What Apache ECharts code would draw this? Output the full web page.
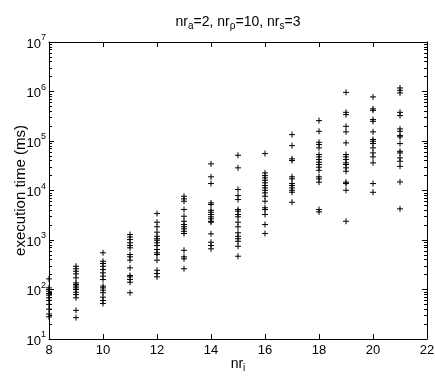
<!DOCTYPE html>
<html>
<head>
<meta charset="utf-8">
<script src="https://cdn.jsdelivr.net/npm/echarts@6/dist/echarts.min.js"></script>
<style>
  html, body { margin: 0; padding: 0; background: #fff; }
  #chart { width: 435px; height: 385px; }
</style>
</head>
<body>
<div id="chart"></div>
<script>
// nr_i values on the x axis
const nrI = [8, 9, 10, 11, 12, 13, 14, 15, 16, 17, 18, 19, 20, 21];

// execution times (ms) measured for each nr_i
const t8 = [164, 108, 100, 92, 83, 77, 68, 60, 50, 40, 32, 28];
const t9 = [295, 262, 234, 207, 172, 136, 126, 117, 108, 100, 88, 79, 68, 38, 27];
const t10 = [551, 372, 335, 295, 253, 217, 186, 159, 117, 108, 97, 86, 70, 60, 52];
const t11 = [1290, 1150, 1020, 877, 773, 695, 509, 457, 391, 274, 192, 180, 159, 140, 86];
const t12 = [3420, 2290, 1850, 1440, 1190, 1060, 989, 877, 773, 642, 551, 509, 391, 245, 210, 180];
const t13 = [7650, 6780, 6070, 4120, 3020, 2390, 2050, 1850, 1680, 1500, 1350, 621, 457, 417, 262];
const t14 = [34500, 18900, 13800, 5620, 5200, 3990, 3640, 3270, 2940, 2680, 2390, 2290, 1330, 902, 773, 663];
const t15 = [51500, 28700, 10500, 7900, 6560, 4120, 3810, 3270, 2940, 2290, 1850, 1400, 1190, 1060, 944, 748, 470];
const t16 = [55700, 22700, 20000, 18000, 16100, 14300, 12600, 11300, 10100, 8960, 7650, 6070, 4470, 4120, 3270, 2050, 1350];
const t17 = [134600, 80700, 43600, 40300, 18900, 17200, 13800, 12600, 11300, 10100, 9220, 5790];
const t18 = [258000, 157000, 94200, 84700, 72600, 53200, 47800, 42200, 37200, 33400, 29500, 25600, 18900, 17200, 14700, 4120, 3700];
const t19 = [961000, 380000, 341000, 198000, 153000, 91600, 53200, 47800, 42200, 36200, 33400, 28700, 24500, 14700, 13800, 10100, 2390];
const t20 = [778000, 445000, 417000, 271000, 250000, 153000, 107000, 98700, 88700, 72600, 57500, 47800, 36200, 13800, 9200];
const t21 = [1180000, 1060000, 935000, 380000, 326000, 176000, 157000, 128500, 121000, 88700, 62000, 57500, 45600, 38900, 30800, 14900, 4260];
const timesByNrI = [t8, t9, t10, t11, t12, t13, t14, t15, t16, t17, t18, t19, t20, t21];

// axis ticks
const decades = [10, 100, 1000, 10000, 100000, 1000000, 10000000];
const minorSteps = [2, 3, 4, 5, 6, 7, 8, 9];

const FONT = 'Liberation Sans, Arial, Helvetica, sans-serif';
const minorTicks = [];
decades.slice(0, -1).forEach(d => minorSteps.forEach(m => minorTicks.push(d * m)));

const points = [];
nrI.forEach((x, i) => timesByNrI[i].forEach(v => points.push([x, v])));

const chart = echarts.init(document.getElementById('chart'));

const axisBase = {
  axisLine: { show: true, lineStyle: { color: '#000', width: 1 } },
  splitLine: { show: false },
  nameMoveOverlap: false,
};

const logAxis = (position, major, labels) => ({
  ...axisBase,
  type: 'log',
  logBase: 10,
  min: 10,
  max: 10000000,
  position: position,
  axisLine: { show: major, lineStyle: { color: '#000', width: 1 } },
  axisTick: {
    show: true,
    inside: true,
    length: major ? 5 : 3,
    customValues: major ? decades : minorTicks,
    lineStyle: { color: '#000' },
  },
  axisLabel: {
    show: labels,
    customValues: decades,
    margin: 3,
    fontFamily: FONT,
    color: '#000',
    formatter: v => '{b|10}{s|' + Math.round(Math.log10(v)) + '}',
    rich: {
      b: { fontSize: 13, fontFamily: FONT, color: '#000', padding: [4, 0, 0, 0] },
      s: { fontSize: 9, fontFamily: FONT, color: '#000', padding: [0, 0, 8, 0] },
    },
  },
});

const xAxisDef = (position, labels) => ({
  ...axisBase,
  type: 'value',
  min: 8,
  max: 22,
  interval: 2,
  position: position,
  axisTick: { show: true, inside: true, length: 5, lineStyle: { color: '#000' } },
  axisLabel: { show: labels, color: '#000', fontSize: 13, fontFamily: FONT, margin: 5 },
});

const yMain = logAxis('left', true, true);
yMain.name = 'execution time (ms)';
yMain.nameLocation = 'middle';
yMain.nameGap = 21;
yMain.nameTextStyle = { fontSize: 15, fontFamily: FONT, color: '#000' };

const xMain = xAxisDef('bottom', true);
xMain.name = 'nr{s|i}';
xMain.nameLocation = 'middle';
xMain.nameGap = 18;
xMain.nameTextStyle = {
  fontSize: 14, fontFamily: FONT, color: '#000',
  rich: { s: { fontSize: 10, fontFamily: FONT, color: '#000', lineHeight: 10, padding: [9, 0, 0, 0] } },
};

chart.setOption({
  animation: false,
  title: {
    text: 'nr{s|a}=2, nr{s|ρ}=10, nr{s|s}=3',
    left: 233,
    top: 10,
    textAlign: 'center',
    textStyle: {
      fontSize: 14,
      fontWeight: 'normal',
      fontFamily: FONT,
      color: '#000',
      rich: { s: { fontSize: 10, fontFamily: FONT, color: '#000', lineHeight: 10, padding: [9, 0, 0, 0] } },
    },
  },
  grid: { left: 49, right: 8, top: 42, bottom: 46, outerBoundsMode: 'none' },
  xAxis: [xMain, xAxisDef('top', false)],
  yAxis: [
    yMain,
    logAxis('left', false, false),
    logAxis('right', true, false),
    logAxis('right', false, false),
  ],
  series: [
    {
      type: 'scatter',
      xAxisIndex: 0,
      yAxisIndex: 0,
      data: points,
      clip: false,
      symbol: 'path://M5,0L5,10M0,5L10,5',
      symbolSize: 6,
      itemStyle: { color: 'rgba(0,0,0,0)', borderColor: '#000', borderWidth: 1, opacity: 1 },
      emphasis: { disabled: true },
    },
  ],
});
</script>
</body>
</html>
